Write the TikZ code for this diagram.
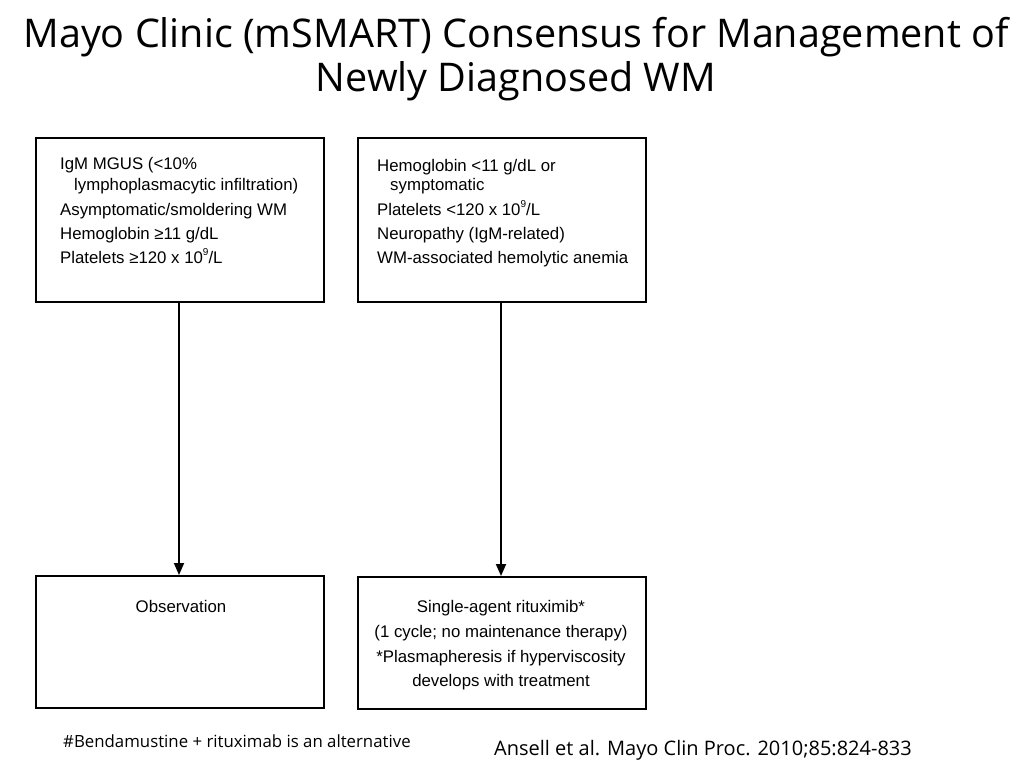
\documentclass[tikz,border=0pt]{standalone}
\usepackage{fontspec}
\setmainfont{Liberation Sans}
\newfontfamily\titlefont{Open Sans}
\usetikzlibrary{arrows.meta}
\newcommand{\supnine}{\raisebox{0.45em}{\fontsize{10}{10}\selectfont 9}}
\begin{document}
\begin{tikzpicture}[x=1pt,y=-1pt,
  box/.style={draw=black,line width=2pt,fill=white},
  boxtext/.style={font=\fontsize{16.8}{20}\selectfont,inner sep=0pt,anchor=base west},
  ctext/.style={font=\fontsize{16.8}{20}\selectfont,inner sep=0pt,anchor=base},
  arr/.style={line width=1.8pt,-{Triangle[length=12pt,width=10pt]}}]
\useasboundingbox (0,0) rectangle (1024,768);
\fill[white] (0,0) rectangle (1024,768);
% title
\node[font=\titlefont\fontsize{39.5}{46}\selectfont,anchor=base] (t1) at (516,48) {Mayo Clinic (mSMART) Consensus for Management of};
\node[font=\titlefont\fontsize{39.5}{46}\selectfont,anchor=base] (t2) at (516,91) {Newly Diagnosed WM};
% boxes
\node[box,minimum width=288pt,minimum height=164pt,anchor=north west] (A) at (35,137) {};
\node[box,minimum width=288pt,minimum height=164pt,anchor=north west] (B) at (357,137) {};
\node[box,minimum width=288pt,minimum height=132pt,anchor=north west] (C) at (35,575) {};
\node[box,minimum width=288pt,minimum height=132pt,anchor=north west] (D) at (357,576) {};
% box A text
\node[boxtext] (a1) at (60,169) {IgM MGUS (<10\%};
\node[boxtext] (a2) at (74,190) {lymphoplasmacytic infiltration)};
\node[boxtext] (a3) at (60,215) {Asymptomatic/smoldering WM};
\node[boxtext] (a4) at (60,239) {Hemoglobin ≥11 g/dL};
\node[boxtext] (a5) at (60,263) {Platelets ≥120 x 10\supnine/L};
% box B text
\node[boxtext] (b1) at (377,171) {Hemoglobin <11 g/dL or};
\node[boxtext] (b2) at (390,190) {symptomatic};
\node[boxtext] (b3) at (377,215) {Platelets <120 x 10\supnine/L};
\node[boxtext] (b4) at (377,239) {Neuropathy (IgM-related)};
\node[boxtext] (b5) at (377,263) {WM-associated hemolytic anemia};
% box C text
\node[ctext] (c1) at (181,612) {Observation};
% box D text
\node[ctext] (d1) at (501,612) {Single-agent rituximib*};
\node[ctext] (d2) at (501,637) {(1 cycle; no maintenance therapy)};
\node[ctext] (d3) at (501,662) {*Plasmapheresis if hyperviscosity};
\node[ctext] (d4) at (501,686) {develops with treatment};
% arrows
\draw[arr] (A.south -| 179,0) -- (C.north -| 179,0);
\draw[arr] (B.south -| 501,0) -- (D.north -| 501,0);
% footnotes
\node[font=\titlefont\fontsize{16.8}{20}\selectfont,anchor=base west,inner sep=0pt] (f1) at (63,747) {\#Bendamustine + rituximab is an alternative};
\node[font=\titlefont\fontsize{20}{24}\selectfont,anchor=base west,inner sep=0pt] (f2) at (494,755) {Ansell et al. Mayo Clin Proc. 2010;85:824-833};
\end{tikzpicture}
\end{document}
